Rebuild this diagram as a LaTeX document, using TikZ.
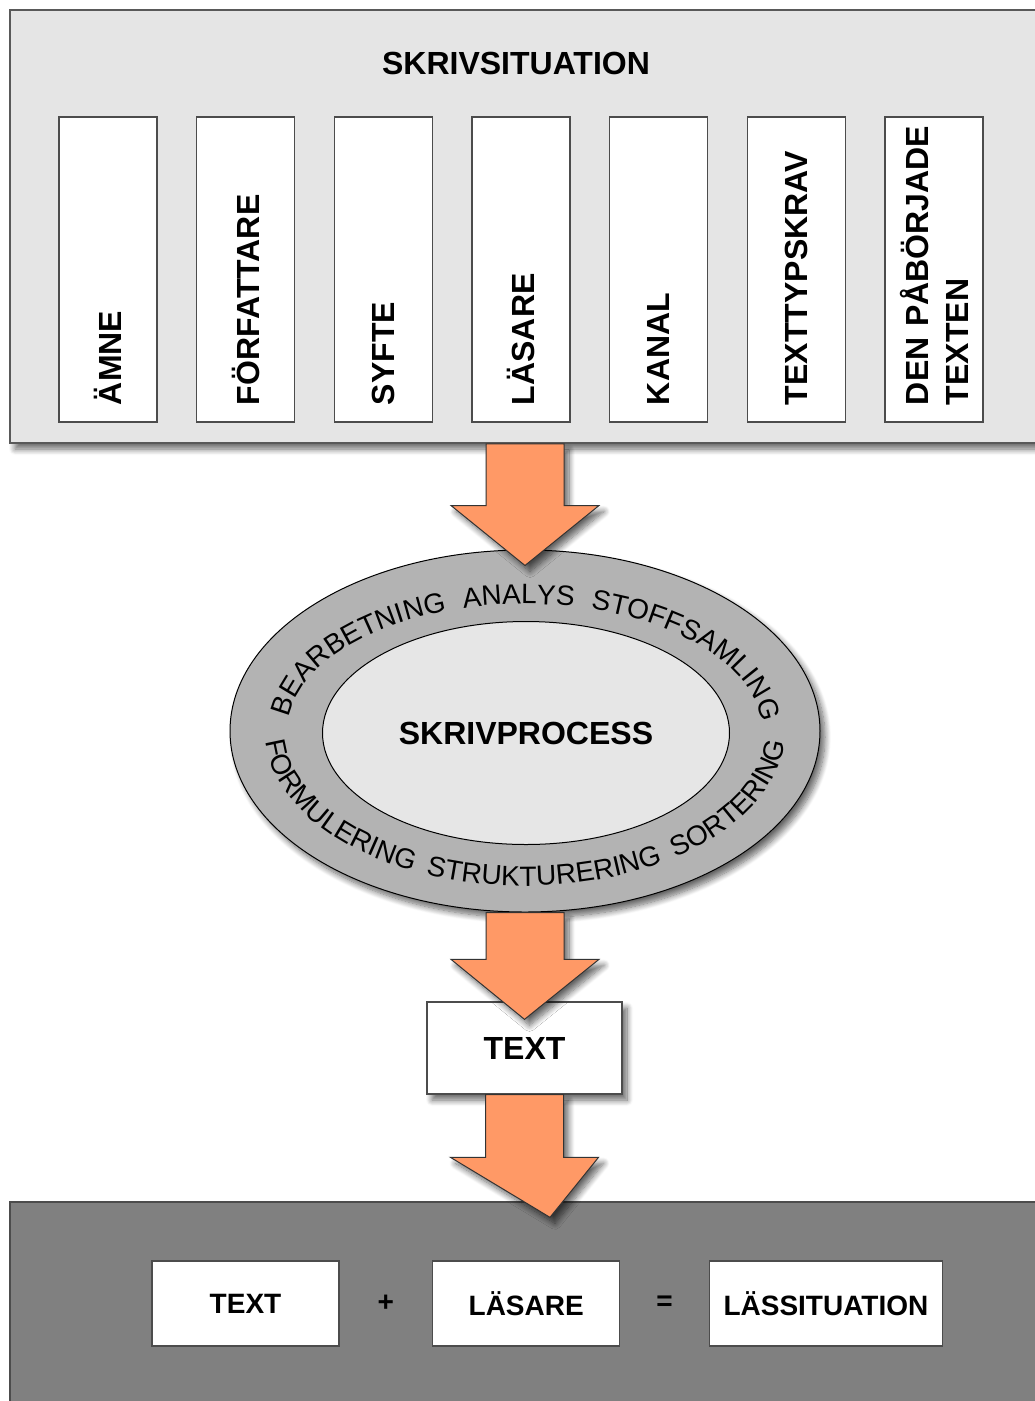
\documentclass[tikz,border=0pt]{standalone}
\usepackage{fontspec}
\setmainfont{Liberation Sans}
\usetikzlibrary{shapes.geometric, positioning, calc, decorations.text, shadows.blur}

\definecolor{sitgray}{HTML}{E5E5E5}
\definecolor{ringgray}{HTML}{B3B3B3}
\definecolor{coregray}{HTML}{E6E6E6}
\definecolor{lesgray}{HTML}{808080}
\definecolor{arroworange}{HTML}{FF9966}

\newcommand{\bigbold}{\fontsize{32}{40}\selectfont\bfseries}
\newcommand{\midbold}{\fontsize{28}{34}\selectfont\bfseries}
\newcommand{\ringfont}{\fontsize{28}{32}\selectfont}

% block arrow from the top point #1 down to the tip #2
\newcommand{\blockarrow}[2]{%
  \filldraw[bigarrow] let \p1 = #1, \p2 = #2 in
    (\x1-39, \y1) -- (\x1+39, \y1) -- (\x1+39, \y2+60) -- (\x1+74, \y2+60)
    -- (\x2, \y2) -- (\x1-74, \y2+60) -- (\x1-39, \y2+60) -- cycle;}

\tikzset{
  softshadow/.style={blur shadow={shadow xshift=5pt, shadow yshift=-6pt,
      shadow blur radius=6pt, shadow blur steps=10, shadow opacity=60}},
  sitbox/.style={draw=black!65, fill=sitgray, line width=1.6pt, softshadow},
  colbox/.style={draw=black!70, fill=white, line width=1.3pt, rotate=90,
      minimum width=305pt, minimum height=98pt, inner xsep=17pt,
      text width=271pt, align=left, font=\bigbold},
  whitebox/.style={draw=black!70, fill=white, line width=1.3pt, inner sep=2pt},
  lesbox/.style={draw=black!70, fill=lesgray, line width=1.3pt},
  bigarrow/.style={draw=black!80, fill=arroworange, line width=1pt, softshadow},
}

\begin{document}
\begin{tikzpicture}[x=1pt, y=1pt]

\clip (0,0) rectangle (1035,-1401);

% writing situation
\node[sitbox, minimum width=1070pt, minimum height=433pt] (sit) at (545,-226.5) {};
\node[font=\bigbold] (sittitle) at (516,-63) {SKRIVSITUATION};

\node[colbox] (amne)   at (108,-269.5)   {ÄMNE};
\node[colbox] (forf)   at (245.7,-269.5) {FÖRFATTARE};
\node[colbox] (syfte)  at (383.3,-269.5) {SYFTE};
\node[colbox] (lasare) at (521,-269.5)   {LÄSARE};
\node[colbox] (kanal)  at (658.7,-269.5) {KANAL};
\node[colbox] (krav)   at (796.3,-269.5) {TEXTTYPSKRAV};
\node[colbox] (paborj) at (934,-269.5)   {\mbox{DEN PÅBÖRJADE}\\TEXTEN};

% writing process
\node[ellipse, draw=black, fill=ringgray, line width=1pt, minimum width=590pt,
      minimum height=362pt, softshadow] (proc) at (525,-731) {};
\node[ellipse, draw=black, fill=coregray, line width=1pt, minimum width=407pt,
      minimum height=223pt, inner sep=0pt, font=\bigbold] (core) at (526,-733) {SKRIVPROCESS};

\path[decorate, decoration={text along path, text={|\ringfont|BEARBETNING ANALYS STOFFSAMLING},
      text align=fit to path stretching spaces}]
  ($(proc.center)+(174:237 and 127)$) arc[start angle=174, end angle=4, x radius=237pt, y radius=127pt];
\path[decorate, decoration={text along path, text={|\ringfont|FORMULERING STRUKTURERING SORTERING},
      text align=fit to path stretching spaces}]
  ($(proc.center)+(184:260 and 155)$) arc[start angle=184, end angle=356, x radius=260pt, y radius=155pt];

% text
\node[whitebox, minimum width=195pt, minimum height=92pt, font=\bigbold, softshadow] (mid) at (524.5,-1048) {TEXT};

% reading situation
\node[lesbox, minimum width=1080pt, minimum height=300pt] (les) at (550,-1352) {};

\node[whitebox, minimum width=187pt, minimum height=85pt, font=\midbold] (lestext) at (245.5,-1303.5) {TEXT};
\node[font=\midbold, minimum width=92pt, inner sep=0pt, right=0pt of lestext] (plus) {+};
\node[whitebox, minimum width=187pt, minimum height=85pt, font=\midbold, right=0pt of plus] (lesreader) {LÄSARE};
\node[font=\midbold, minimum width=88pt, inner sep=0pt, right=0pt of lesreader] (equals) {=};
\node[whitebox, minimum width=233pt, minimum height=85pt, font=\midbold, right=0pt of equals] (lessit) {LÄSSITUATION};

% arrows
\blockarrow{(proc.north |- sit.south)}{($(proc.north)+(0,-16)$)}
\blockarrow{(proc.south)}{($(mid.north)+(0,-18)$)}
\blockarrow{(mid.south)}{($(les.north)+(0,-16)$)}

\end{tikzpicture}
\end{document}
